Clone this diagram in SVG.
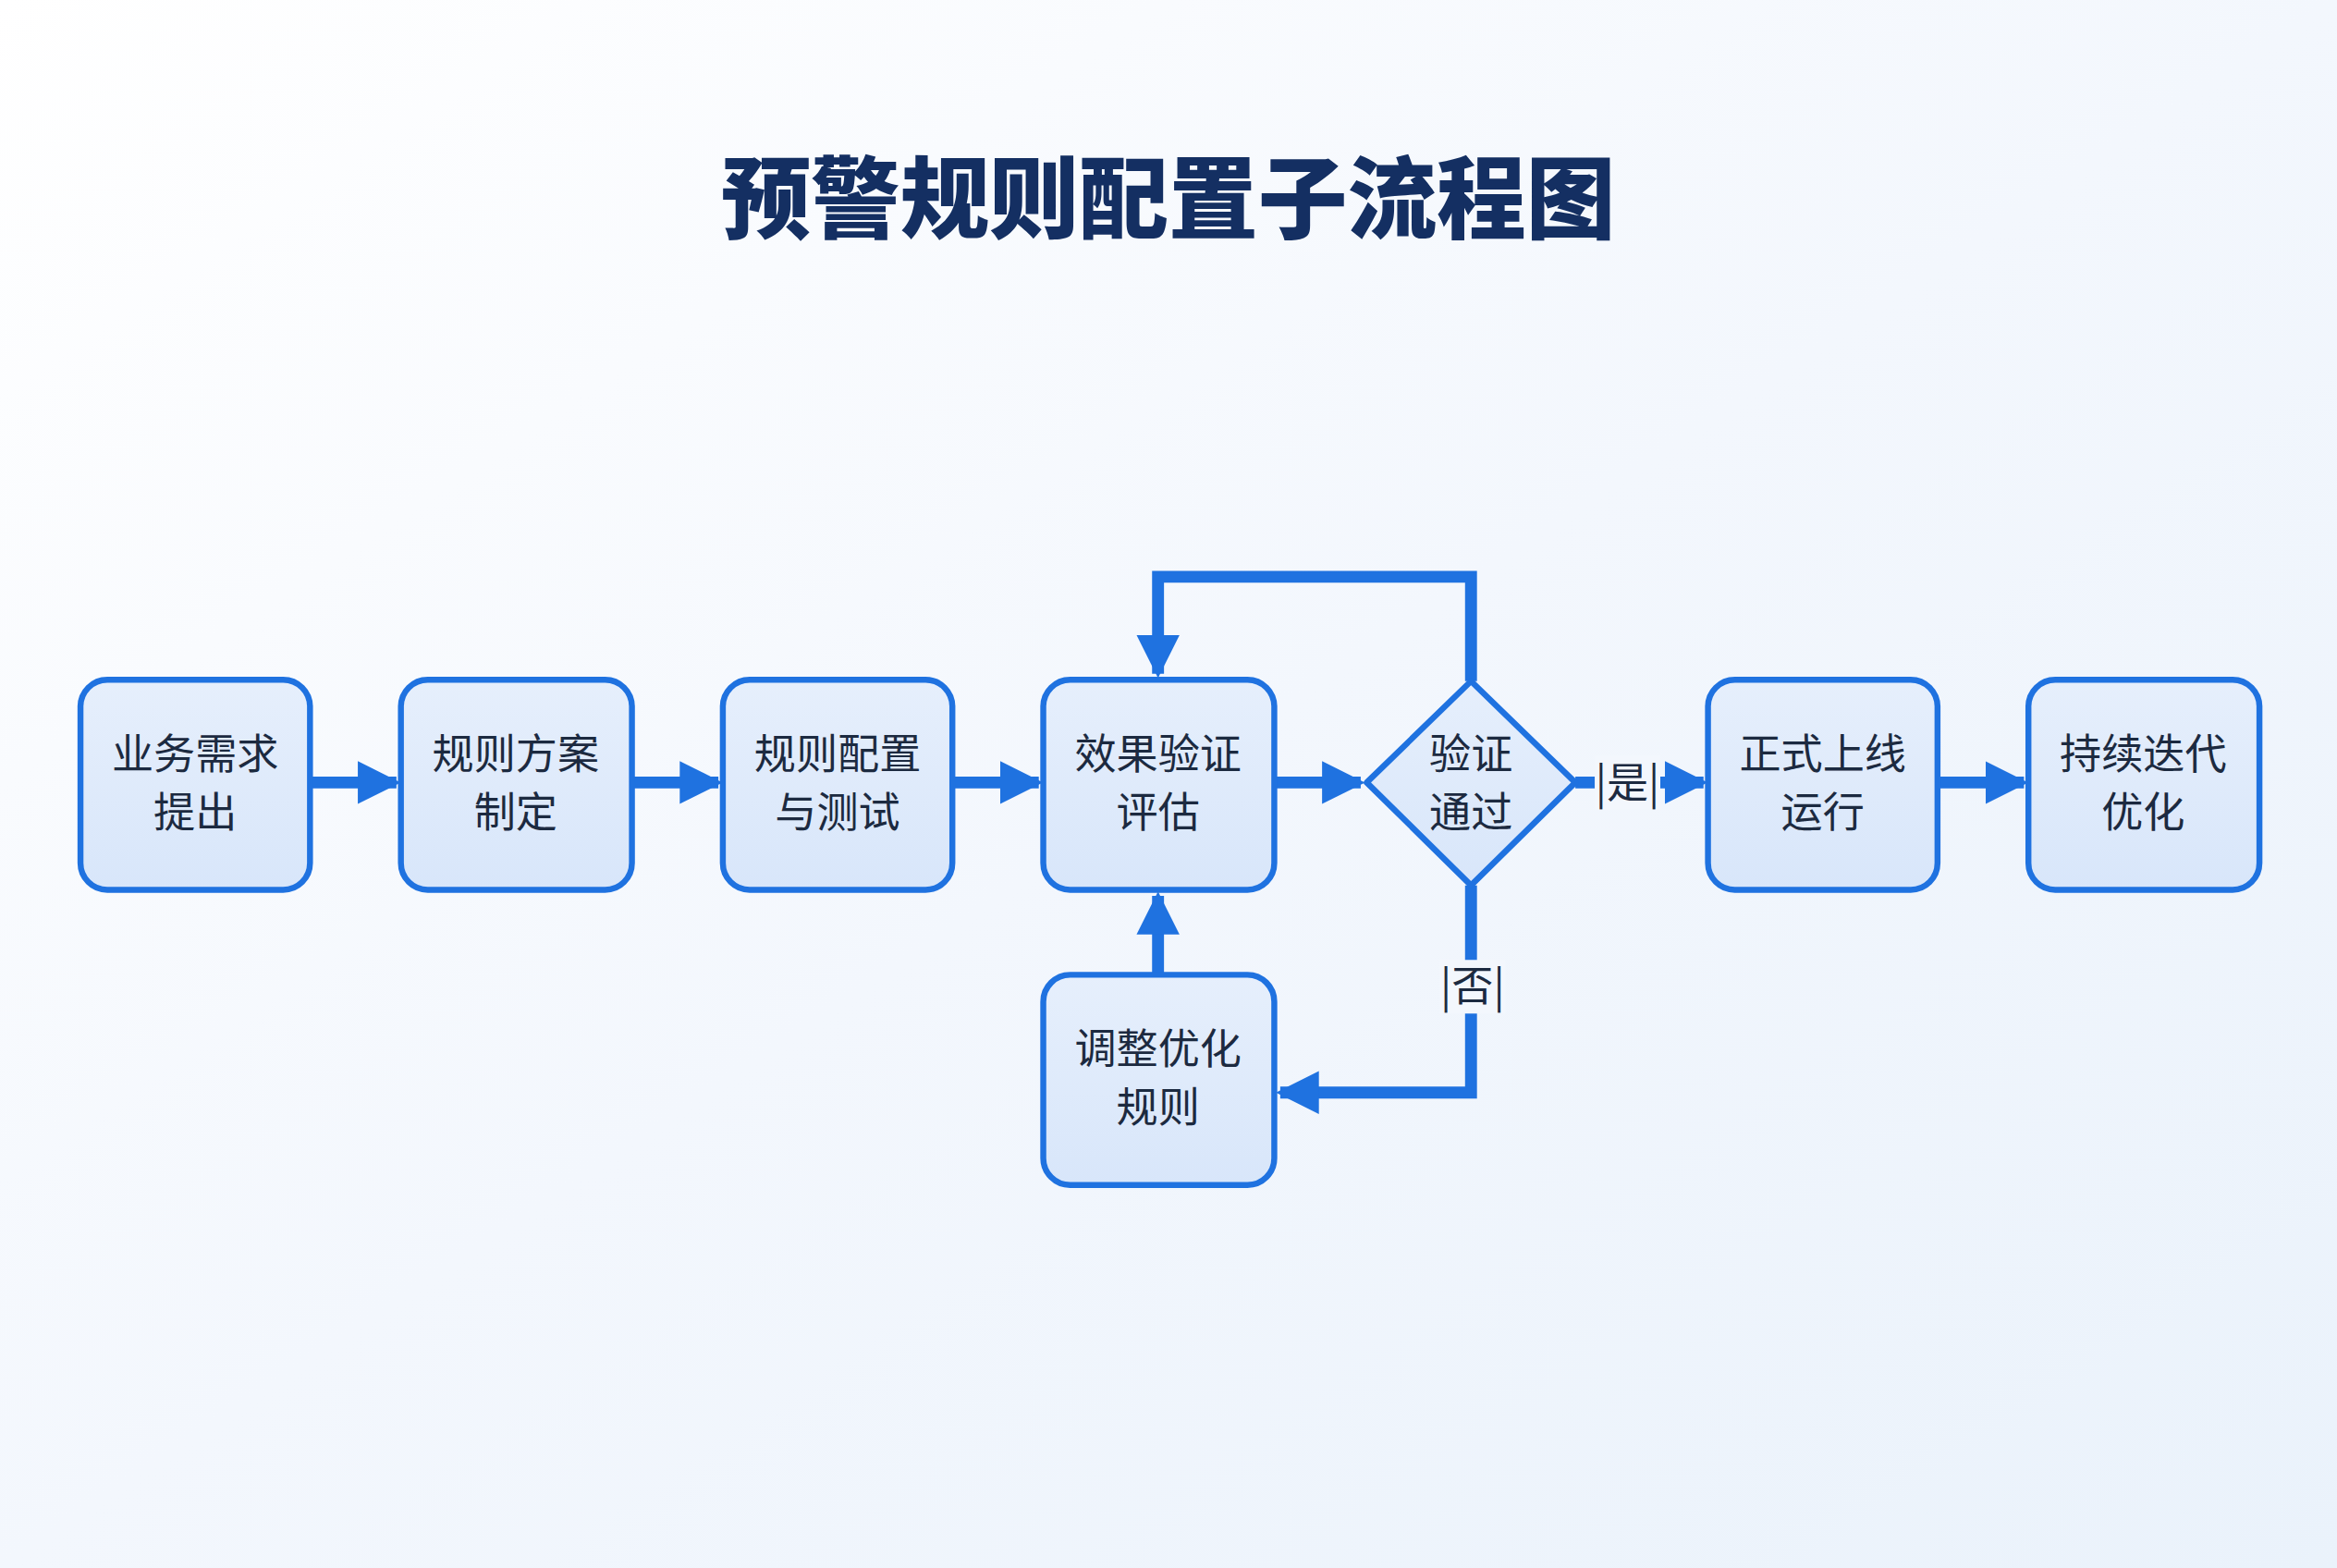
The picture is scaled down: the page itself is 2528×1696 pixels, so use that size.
<svg xmlns="http://www.w3.org/2000/svg" width="2528" height="1696" viewBox="0 0 2528 1696">
<defs>
<linearGradient id="bg" x1="0" y1="0" x2="1" y2="1"><stop offset="0" stop-color="#ffffff"/><stop offset="0.5" stop-color="#f3f7fd"/><stop offset="1" stop-color="#eaf2fb"/></linearGradient>
<linearGradient id="nf" x1="0" y1="0" x2="0" y2="1"><stop offset="0" stop-color="#e6effc"/><stop offset="1" stop-color="#d8e6fa"/></linearGradient>
<marker id="ah" viewBox="0 0 10 10" refX="9" refY="5" markerWidth="3.6" markerHeight="4.4" markerUnits="strokeWidth" orient="auto"><path d="M0,0 L10,5 L0,10 z" fill="#1f72e0"/></marker>
<style>
.n{fill:url(#nf);stroke:#1f72e0;stroke-width:4}
.t{font-family:"Noto Sans CJK SC","Noto Sans",sans-serif;font-size:28px;fill:#1c2a40;text-anchor:middle}
.c{fill:none;stroke:#1f72e0;stroke-width:8;marker-end:url(#ah)}
.l{font-family:"Noto Sans CJK SC","Noto Sans",sans-serif;font-size:28px;fill:#1c2a40;text-anchor:middle}
</style>
</defs>
<rect width="2528" height="1696" fill="url(#bg)"/>
<g transform="scale(1.6122)">
<text x="784" y="155" font-family="'Noto Sans CJK SC',sans-serif" font-size="60" font-weight="900" fill="#142f62" text-anchor="middle">预警规则配置子流程图</text>
<g id="connectors">
<path class="c" d="M208,525 H266"/>
<path class="c" d="M424,525 H482"/>
<path class="c" d="M639,525 H697"/>
<path class="c" d="M855,525 H913"/>
<path class="c" d="M987,457 V387 H777 V452"/>
<path class="c" d="M987,594 V733 H859"/>
<path class="c" d="M777,654 V601"/>
<path class="c" d="M1057,525 H1143"/>
<path class="c" d="M1300,525 H1358"/>
<rect x="1070" y="507" width="44" height="36" fill="#f3f7fd"/>
<text class="l" x="1092" y="535">|是|</text>
<rect x="966" y="644" width="44" height="36" fill="#f3f7fd"/>
<text class="l" x="988" y="672">|否|</text>
</g>
<g id="n1"><rect class="n" x="54" y="456" width="154" height="141" rx="18"/><text class="t" x="131" y="516">业务需求</text><text class="t" x="131" y="555">提出</text></g>
<g id="n2"><rect class="n" x="269" y="456" width="155" height="141" rx="18"/><text class="t" x="346" y="516">规则方案</text><text class="t" x="346" y="555">制定</text></g>
<g id="n3"><rect class="n" x="485" y="456" width="154" height="141" rx="18"/><text class="t" x="562" y="516">规则配置</text><text class="t" x="562" y="555">与测试</text></g>
<g id="n4"><rect class="n" x="700" y="456" width="155" height="141" rx="18"/><text class="t" x="777" y="516">效果验证</text><text class="t" x="777" y="555">评估</text></g>
<g id="n5"><path class="n" d="M987,457 L1057,525 L987,594 L917,525 Z" stroke-linejoin="round"/><text class="t" x="987" y="516">验证</text><text class="t" x="987" y="555">通过</text></g>
<g id="n6"><rect class="n" x="1146" y="456" width="154" height="141" rx="18"/><text class="t" x="1223" y="516">正式上线</text><text class="t" x="1223" y="555">运行</text></g>
<g id="n7"><rect class="n" x="1361" y="456" width="155" height="141" rx="18"/><text class="t" x="1438" y="516">持续迭代</text><text class="t" x="1438" y="555">优化</text></g>
<g id="n8"><rect class="n" x="700" y="654" width="155" height="141" rx="18"/><text class="t" x="777" y="714">调整优化</text><text class="t" x="777" y="753">规则</text></g>
</g>
</svg>
